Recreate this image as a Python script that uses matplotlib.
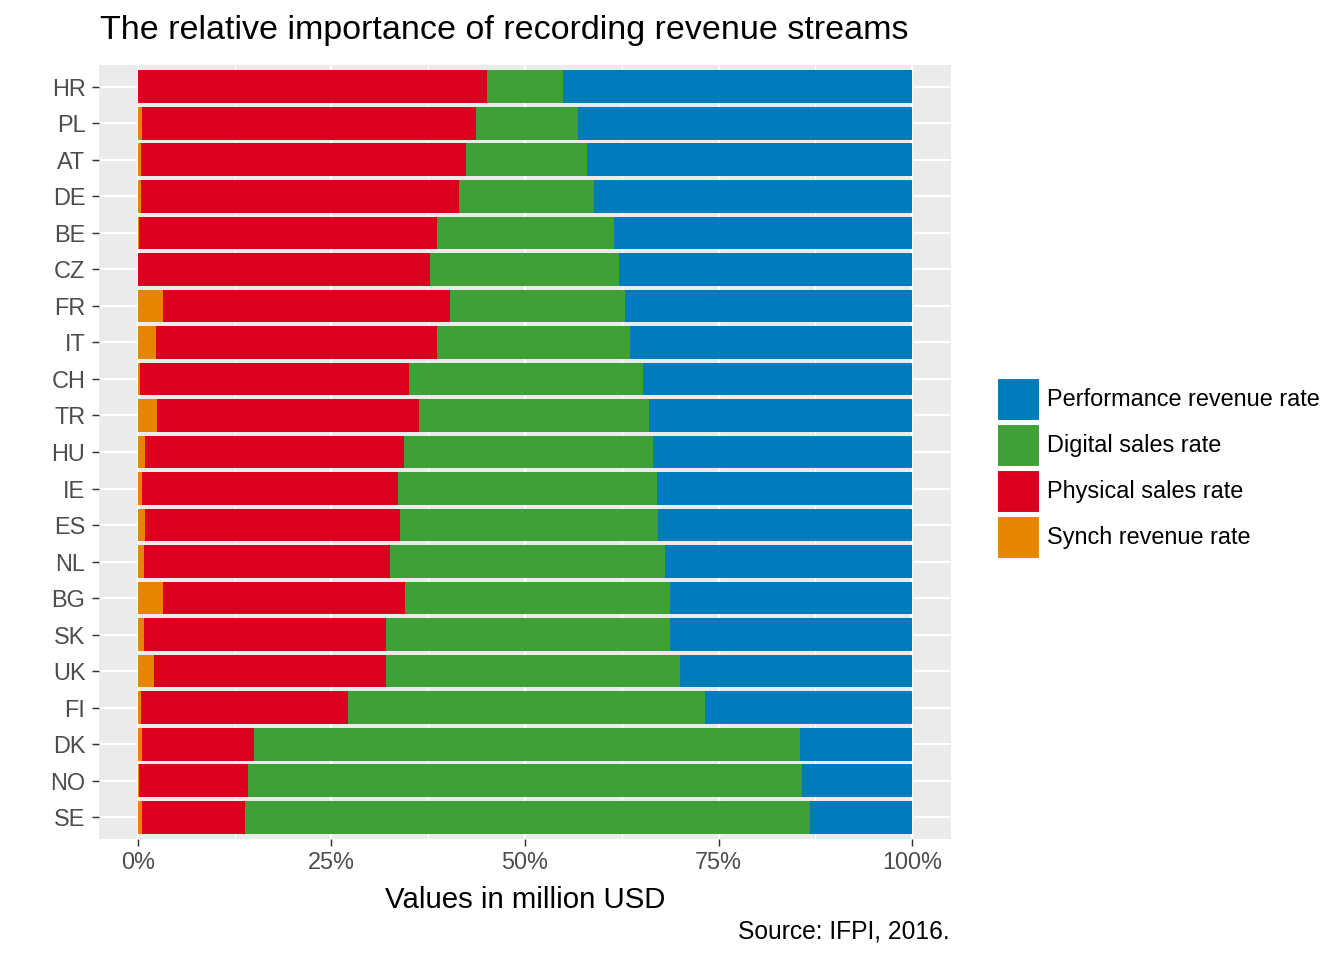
import matplotlib
matplotlib.use("Agg")
import matplotlib.pyplot as plt
from matplotlib.patches import Patch
from matplotlib.ticker import FixedLocator
import numpy as np

countries = ["HR", "PL", "AT", "DE", "BE", "CZ", "FR", "IT", "CH", "TR", "HU",
             "IE", "ES", "NL", "BG", "SK", "UK", "FI", "DK", "NO", "SE"]
synch = [0.0, 0.6, 0.4, 0.4, 0.2, 0.0, 3.2, 2.3, 0.3, 2.5, 0.9,
         0.5, 1.0, 0.8, 3.2, 0.8, 2.1, 0.4, 0.5, 0.1, 0.6]
physical = [45.1, 43.1, 42.0, 41.1, 38.5, 37.7, 37.1, 36.3, 34.7, 33.8, 33.5,
            33.1, 32.9, 31.8, 31.3, 31.2, 29.9, 26.7, 14.5, 14.2, 13.2]
digital = [9.8, 13.1, 15.6, 17.4, 22.8, 24.4, 22.6, 25.0, 30.2, 29.7, 32.1,
           33.4, 33.3, 35.5, 34.2, 36.7, 38.0, 46.2, 70.5, 71.4, 73.0]
performance = [45.1, 43.2, 42.0, 41.1, 38.5, 37.9, 37.1, 36.4, 34.8, 34.0, 33.5,
               33.0, 32.8, 31.9, 31.3, 31.3, 30.0, 26.7, 14.5, 14.3, 13.2]
x_ticks = [0, 25, 50, 75, 100]
x_tick_labels = ["0%", "25%", "50%", "75%", "100%"]

series_names = ["Synch revenue rate", "Physical sales rate", "Digital sales rate",
                "Performance revenue rate"]
colors = ["#E68600", "#DB001F", "#3FA037", "#007BBB"]

plt.rcParams['font.family'] = ['Liberation Sans', 'DejaVu Sans']

W, H = 1344, 960
fig = plt.figure(figsize=(W / 96, H / 96), dpi=96)
L, R, T, B = 99, 951, 65, 839
ax = fig.add_axes([L / W, 1 - B / H, (R - L) / W, (B - T) / H])
ax.set_facecolor("#EBEBEB")
for s in ax.spines.values():
    s.set_visible(False)

n = len(countries)
ypos = np.arange(n)[::-1]  # HR on top
data = [np.array(synch), np.array(physical), np.array(digital), np.array(performance)]
left = np.zeros(n)
for vals, c, name in zip(data, colors, series_names):
    ax.barh(ypos, vals, left=left, height=0.9, color=c, label=name, zorder=3)
    left = left + vals

ax.set_xlim(-5, 105)
ax.set_ylim(-0.6, n - 1 + 0.6)
ax.xaxis.set_major_locator(FixedLocator(x_ticks))
ax.xaxis.set_minor_locator(FixedLocator([12.5, 37.5, 62.5, 87.5]))
ax.set_xticklabels(x_tick_labels)
ax.set_yticks(ypos)
ax.set_yticklabels(countries)
ax.grid(True, which="major", color="white", linewidth=1.6, zorder=1)
ax.grid(True, which="minor", axis="x", color="white", linewidth=0.8, zorder=1)
ax.tick_params(axis="both", which="major", colors="#333333", length=5.2, width=1.1,
               labelsize=17.6, labelcolor="#4D4D4D", pad=5)
ax.tick_params(axis="x", which="major", pad=4)
ax.tick_params(axis="x", which="minor", length=0)

ax.set_xlabel("Values in million USD", fontsize=22, color="black", labelpad=8.5)
fig.text(100 / W, 1 - 31 / H, "The relative importance of recording revenue streams",
         fontsize=25.5, ha="left", va="center", color="black")
fig.text(950 / W, 1 - 932 / H, "Source: IFPI, 2016.", fontsize=18.5, ha="right",
         va="center", color="black")

handles = [Patch(facecolor=colors[i], edgecolor="white", linewidth=0.8) for i in [3, 2, 1, 0]]
labels = [series_names[i] for i in [3, 2, 1, 0]]
fs = 17.6 * 96 / 72
hh = (42 / fs - 0.245) / 0.65
fig.legend(handles, labels, loc="center left", bbox_to_anchor=(997 / W, 1 - 468 / H),
           frameon=False, fontsize=17.6, handlelength=42 / fs, handleheight=hh,
           labelspacing=4 / fs, handletextpad=8 / fs, borderaxespad=0, borderpad=0)

fig.savefig("out.png", dpi=96)
